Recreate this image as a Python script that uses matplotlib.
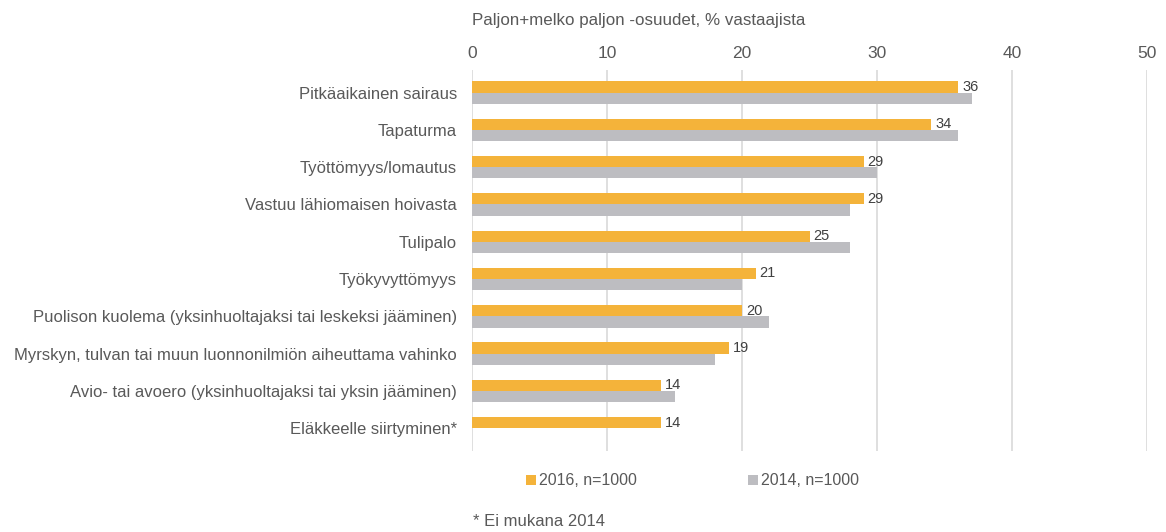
import numpy as np
import matplotlib
matplotlib.use("Agg")
import matplotlib.pyplot as plt

categories = [
    "Pitkäaikainen sairaus",
    "Tapaturma",
    "Työttömyys/lomautus",
    "Vastuu lähiomaisen hoivasta",
    "Tulipalo",
    "Työkyvyttömyys",
    "Puolison kuolema (yksinhuoltajaksi tai leskeksi jääminen)",
    "Myrskyn, tulvan tai muun luonnonilmiön aiheuttama vahinko",
    "Avio- tai avoero (yksinhuoltajaksi tai yksin jääminen)",
    "Eläkkeelle siirtyminen*",
]
values_2016 = [36, 34, 29, 29, 25, 21, 20, 19, 14, 14]
values_2014 = [37, 36, 30, 28, 28, 20, 22, 18, 15, np.nan]
series_labels = ["2016, n=1000", "2014, n=1000"]
x_ticks = [0, 10, 20, 30, 40, 50]

orange = "#F4B33A"
grey = "#BDBDC1"
text_col = "#595959"

plt.rcParams["font.family"] = ["Liberation Sans", "DejaVu Sans"]
narrow = ["Liberation Sans Narrow", "Liberation Sans", "DejaVu Sans"]

fig = plt.figure(figsize=(11.66, 5.32), dpi=100)
ax = fig.add_axes([0.405, 0.153, 0.5787, 0.715])

y = np.arange(len(categories))
h = 0.3
ax.barh(y - h / 2, values_2016, height=h, color=orange, label=series_labels[0], zorder=3)
ax.barh(y + h / 2, values_2014, height=h, color=grey, label=series_labels[1], zorder=3)

for yi, v in zip(y, values_2016):
    ax.text(v + 0.3, yi - h / 2, f"{v}", va="center", ha="left",
            fontsize=10.5, color="#404040", zorder=4)

ax.set_xlim(0, 50)
ax.set_ylim(len(categories) - 0.4, -0.6)
ax.set_yticks(y)
ax.set_yticklabels(categories, fontsize=12, color=text_col)
ax.set_xticks(x_ticks)
ax.xaxis.tick_top()
ax.tick_params(axis="x", length=0, pad=7, labelsize=12.5, labelcolor=text_col)
for lab in ax.get_xticklabels():
    lab.set_family(narrow)
ax.tick_params(axis="y", length=0, pad=11)
ax.grid(axis="x", color="#D9D9D9", linewidth=1.2, zorder=0)
for s in ax.spines.values():
    s.set_visible(False)

fig.text(0.405, 0.962, "Paljon+melko paljon -osuudet, % vastaajista",
         fontsize=12.2, color=text_col, family=narrow, va="center", ha="left")

fig.legend(loc="center", bbox_to_anchor=(0.594, 0.096), ncol=2, frameon=False,
           fontsize=11.5, labelcolor=text_col, handlelength=0.6, handleheight=0.6,
           handletextpad=0.2, columnspacing=7.0)

fig.text(0.406, 0.020, "* Ei mukana 2014", fontsize=12, color=text_col,
         va="center", ha="left")

fig.savefig("out.png", dpi=100)
